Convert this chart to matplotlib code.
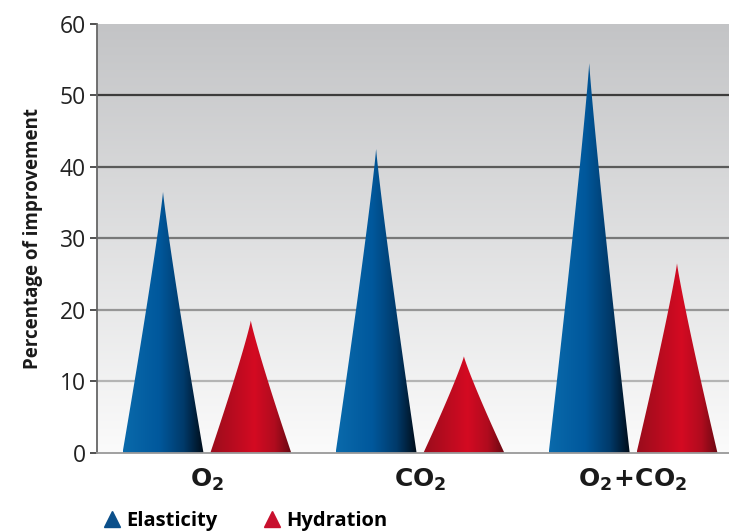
import matplotlib
matplotlib.use("Agg")
import matplotlib.pyplot as plt
import numpy as np
from matplotlib.colors import LinearSegmentedColormap
from matplotlib.patches import Polygon
from matplotlib.lines import Line2D

## data
categories = [r"$\mathbf{O_2}$", r"$\mathbf{CO_2}$", r"$\mathbf{O_2\!+\!CO_2}$"]
elasticity = [36.5, 42.5, 54.5]
hydration = [18.5, 13.5, 26.5]
yticks = [0, 10, 20, 30, 40, 50, 60]

plt.rcParams['font.family'] = ['Open Sans', 'DejaVu Sans']
plt.rcParams['mathtext.fontset'] = 'dejavusans'

blue_cmap = LinearSegmentedColormap.from_list(
    "blue", [(0, "#0a6aab"), (0.45, "#00589c"), (0.75, "#003a6a"), (1.0, "#000c18")])
red_cmap = LinearSegmentedColormap.from_list(
    "red", [(0, "#9a0d1c"), (0.55, "#d40a22"), (0.8, "#b00c1e"), (1.0, "#6a0812")])

fig = plt.figure(figsize=(7.29, 5.31), dpi=100)
ax = fig.add_axes([0.133, 0.147, 0.867, 0.808])
ax.set_xlim(-0.516, 2.45)
ax.set_ylim(0, 60)

# gray gradient background
grad = np.linspace(0, 1, 256).reshape(-1, 1)
bg = LinearSegmentedColormap.from_list("bg", ["#fbfbfb", "#c3c4c6"])
ax.imshow(grad, cmap=bg, extent=[0, 1, 0, 1], transform=ax.transAxes,
          aspect="auto", origin="lower", zorder=0)

# grid lines get darker towards the top
grid_cmap = LinearSegmentedColormap.from_list("grid", ["#b4b4b4", "#3c3c3c"])
for y in yticks[1:-1]:
    ax.axhline(y, color=grid_cmap((y - 10) / 40), lw=1.6, zorder=1)


def cone(x, h, width, cmap):
    t = np.linspace(0, 1, 60)
    half = width / 2 * (1 - t) ** 1.1
    xs = np.concatenate([x - half, (x + half)[::-1]])
    ys = np.concatenate([h * t, (h * t)[::-1]])
    poly = Polygon(np.column_stack([xs, ys]), closed=True, facecolor="none",
                   edgecolor="none")
    ax.add_patch(poly)
    im = ax.imshow(np.linspace(0, 1, 256).reshape(1, -1), cmap=cmap,
                   extent=[x - width / 2, x + width / 2, 0, h],
                   aspect="auto", zorder=2)
    im.set_clip_path(poly)


offset = 0.206
width = 0.38
for i in range(len(categories)):
    cone(i - offset, elasticity[i], width, blue_cmap)
    cone(i + offset, hydration[i], width, red_cmap)

ax.set_xlim(-0.516, 2.45)
ax.set_ylim(0, 60)
ax.set_yticks(yticks)
ax.tick_params(axis="y", labelsize=16.5, length=5, width=1.2, color="#333333",
               pad=3, labelcolor="#222222")
ax.set_xticks(range(len(categories)))
ax.set_xticklabels(categories, fontsize=18, color="#1a1a1a")
ax.tick_params(axis="x", length=0, pad=10)
for s in ["top", "right"]:
    ax.spines[s].set_visible(False)
ax.spines["left"].set_color("#666666")
ax.spines["left"].set_linewidth(1.3)
ax.spines["bottom"].set_color("#999999")
ax.spines["bottom"].set_linewidth(1.3)

ax.set_ylabel("Percentage of improvement", fontsize=13.5, fontweight="bold",
              color="#1a1a1a", labelpad=12)

handles = [
    Line2D([], [], marker="^", ls="none", color="#0b4f8a", markersize=11),
    Line2D([], [], marker="^", ls="none", color="#c8102e", markersize=11),
]
fig.legend(handles, ["Elasticity", "Hydration"], loc="lower left",
           bbox_to_anchor=(0.115, -0.035), ncol=2, frameon=False,
           prop={"size": 14.5, "weight": "bold"}, handletextpad=0.2,
           columnspacing=2.2, handlelength=1.0)

fig.savefig("out.png", dpi=100)
